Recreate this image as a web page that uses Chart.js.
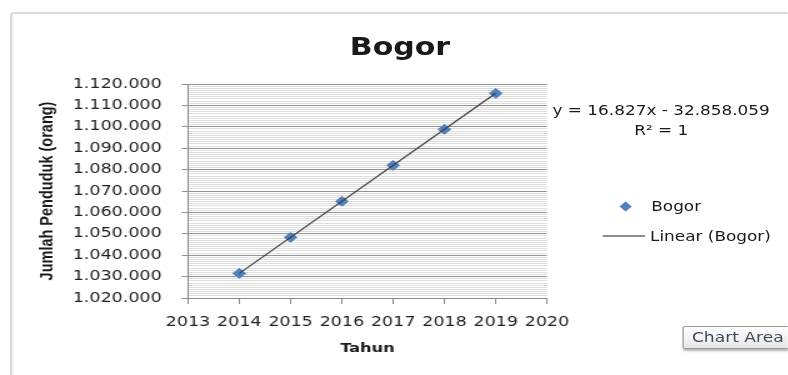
<!DOCTYPE html>
<html>
<head>
<meta charset="utf-8">
<script src="https://cdn.jsdelivr.net/npm/chart.js@4.4.0/dist/chart.umd.min.js"></script>
<style>
  html, body { margin: 0; padding: 0; background: #fff; overflow: hidden; }
  /* chart is laid out 630px wide and stretched to the 788px window */
  #stage { position: absolute; left: 0; top: 0; width: 630px; height: 375px; overflow: hidden;
           transform: scaleX(1.25); transform-origin: 0 0; font-family: "DejaVu Sans", sans-serif; color: #1a1a1a; }
  #frame { position: absolute; left: 8px; top: 12px; width: 640px; height: 380px;
           border-top: 2px solid #d9d9d9; border-left: 2px solid #d9d9d9; border-radius: 3px 0 0 0; }
  #plot { position: absolute; left: 0; top: 0; width: 630px; height: 375px; }
  .title { position: absolute; left: 0; width: 640px; top: 33px; line-height: 28px; text-align: center;
           font-weight: bold; font-size: 24px; }
  .eq { position: absolute; left: 442px; width: 174px; font-size: 13.5px; line-height: 16px; white-space: nowrap; }
  .leg-text { position: absolute; font-size: 13.5px; line-height: 16px; white-space: nowrap; }
  .diamond { position: absolute; left: 496.5px; top: 202.5px; width: 7px; height: 7px; background: #4F81BD; transform: rotate(45deg); }
  .leg-line { position: absolute; left: 482px; top: 235px; width: 34px; height: 2px; background: #8c8c8c; }
  .tip { position: absolute; left: 545.5px; top: 326px; width: 100px; height: 23px; box-sizing: border-box;
         border: 1px solid #9a9a9a; border-radius: 2px; background: linear-gradient(#ffffff, #e6e6e6);
         box-shadow: 1px 2px 2px rgba(0,0,0,0.3); color: #3d4b62; font-size: 13.7px; line-height: 21px; padding-left: 7px; }
</style>
</head>
<body>
<div id="stage">
  <div id="frame"></div>
  <div id="plot"><canvas id="chart"></canvas></div>
  <div class="title">Bogor</div>
  <div class="eq" style="top:102px">y = 16.827x - 32.858.059</div>
  <div class="eq" style="top:122px;text-align:center">R² = 1</div>
  <div class="diamond"></div>
  <div class="leg-text" style="left:521px;top:198px">Bogor</div>
  <div class="leg-line"></div>
  <div class="leg-text" style="left:520px;top:228px">Linear (Bogor)</div>
  <div class="tip">Chart Area</div>
</div>
<script>
const years = [2014, 2015, 2016, 2017, 2018, 2019];
const population = [1031519, 1048346, 1065173, 1082000, 1098827, 1115654];

// linear trend y = 16.827x - 32.858.059
const trendSlope = 16827;
const trendIntercept = -32858059;

const xRange = [2013, 2020];
const yRange = [1020000, 1120000];
const yMajorStep = 10000;
const yMinorStep = 1000;

const dotted = v => String(v).replace(/\B(?=(\d{3})+(?!\d))/g, '.');
const isMajor = ctx => ctx.tick && ctx.tick.value % yMajorStep === 0;

const trendEnds = [years[0], years[years.length - 1]];

new Chart(document.getElementById('chart'), {
    type: 'scatter',
    data: {
        datasets: [
            {
                label: 'Linear (Bogor)',
                type: 'line',
                data: trendEnds.map(x => ({ x: x, y: trendSlope * x + trendIntercept })),
                borderColor: '#3c3c3c',
                borderWidth: 1.2,
                pointRadius: 0,
                showLine: true,
                fill: false,
                order: 0
            },
            {
                label: 'Bogor',
                data: years.map((x, i) => ({ x: x, y: population[i] })),
                pointStyle: 'rectRot',
                pointRadius: 5,
                backgroundColor: '#4F81BD',
                borderColor: '#4F81BD',
                borderWidth: 1,
                order: 1
            }
        ]
    },
    options: {
        responsive: true,
        maintainAspectRatio: false,
        animation: false,
        layout: { padding: { left: 8, right: 192.4, top: 84, bottom: 15 } },
        plugins: {
            legend: { display: false },
            title: { display: false },
            tooltip: { enabled: false }
        },
        scales: {
            x: {
                type: 'linear',
                min: xRange[0],
                max: xRange[1],
                afterFit: scale => { scale.height = 62 },
                ticks: {
                    stepSize: 1,
                    maxRotation: 0,
                    padding: 10,
                    color: '#222',
                    font: { family: 'DejaVu Sans', size: 14 },
                    callback: v => String(v)
                },
                grid: { drawOnChartArea: false, tickLength: 6, color: '#8a8a8a' },
                border: { color: '#8a8a8a' },
                title: {
                    display: true,
                    text: 'Tahun',
                    color: '#1a1a1a',
                    font: { family: 'DejaVu Sans', size: 13, weight: 'bold' },
                    padding: { top: 4, bottom: 4 }
                }
            },
            y: {
                type: 'linear',
                min: yRange[0],
                max: yRange[1],
                afterFit: scale => { scale.width = 142.4 },
                ticks: {
                    stepSize: yMinorStep,
                    autoSkip: false,
                    maxTicksLimit: 200,
                    padding: 16,
                    color: '#222',
                    font: { family: 'DejaVu Sans', size: 14 },
                    callback: v => v % yMajorStep === 0 ? dotted(v) : ''
                },
                grid: {
                    color: ctx => isMajor(ctx) ? '#929292' : '#dedede',
                    tickColor: ctx => isMajor(ctx) ? '#929292' : 'rgba(0,0,0,0)',
                    tickLength: 5,
                    lineWidth: 1
                },
                border: { color: '#8a8a8a' },
                title: {
                    display: true,
                    text: 'Jumlah Penduduk (orang)',
                    color: '#1a1a1a',
                    font: { family: 'Liberation Sans', size: 14.5, weight: 'bold' },
                    padding: { top: 21.7, bottom: 0 }
                }
            }
        }
    }
});
</script>
</body>
</html>
